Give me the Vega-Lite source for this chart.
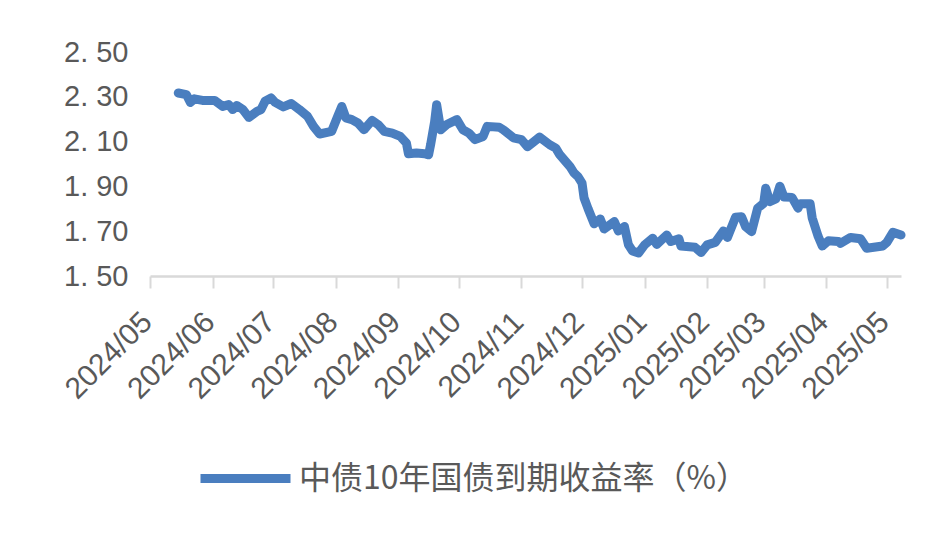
{
  "$schema": "https://vega.github.io/schema/vega-lite/v6.json",
  "autosize": {"type": "none"},
  "padding": {"left": 150, "top": 52, "right": 50, "bottom": 265},
  "width": 751,
  "height": 224,
  "background": "white",
  "config": {"view": {"stroke": null}},
  "data": {"values": [
    {"date":"2024-05-15","v":2.317},
    {"date":"2024-05-19","v":2.310},
    {"date":"2024-05-21","v":2.275},
    {"date":"2024-05-23","v":2.291},
    {"date":"2024-05-27","v":2.284},
    {"date":"2024-06-02","v":2.284},
    {"date":"2024-06-06","v":2.257},
    {"date":"2024-06-09","v":2.265},
    {"date":"2024-06-11","v":2.243},
    {"date":"2024-06-13","v":2.261},
    {"date":"2024-06-16","v":2.243},
    {"date":"2024-06-19","v":2.208},
    {"date":"2024-06-23","v":2.235},
    {"date":"2024-06-25","v":2.243},
    {"date":"2024-06-27","v":2.280},
    {"date":"2024-06-30","v":2.295},
    {"date":"2024-07-02","v":2.275},
    {"date":"2024-07-06","v":2.255},
    {"date":"2024-07-10","v":2.270},
    {"date":"2024-07-14","v":2.243},
    {"date":"2024-07-18","v":2.213},
    {"date":"2024-07-21","v":2.168},
    {"date":"2024-07-24","v":2.134},
    {"date":"2024-07-30","v":2.146},
    {"date":"2024-08-02","v":2.213},
    {"date":"2024-08-04","v":2.257},
    {"date":"2024-08-06","v":2.206},
    {"date":"2024-08-09","v":2.198},
    {"date":"2024-08-12","v":2.183},
    {"date":"2024-08-15","v":2.153},
    {"date":"2024-08-19","v":2.195},
    {"date":"2024-08-22","v":2.176},
    {"date":"2024-08-25","v":2.146},
    {"date":"2024-08-29","v":2.138},
    {"date":"2024-09-02","v":2.123},
    {"date":"2024-09-05","v":2.094},
    {"date":"2024-09-06","v":2.046},
    {"date":"2024-09-10","v":2.049},
    {"date":"2024-09-14","v":2.046},
    {"date":"2024-09-16","v":2.041},
    {"date":"2024-09-17","v":2.086},
    {"date":"2024-09-19","v":2.190},
    {"date":"2024-09-20","v":2.265},
    {"date":"2024-09-22","v":2.153},
    {"date":"2024-09-25","v":2.176},
    {"date":"2024-09-30","v":2.198},
    {"date":"2024-10-03","v":2.153},
    {"date":"2024-10-06","v":2.138},
    {"date":"2024-10-09","v":2.109},
    {"date":"2024-10-13","v":2.123},
    {"date":"2024-10-15","v":2.168},
    {"date":"2024-10-21","v":2.164},
    {"date":"2024-10-23","v":2.153},
    {"date":"2024-10-28","v":2.117},
    {"date":"2024-11-01","v":2.109},
    {"date":"2024-11-04","v":2.077},
    {"date":"2024-11-10","v":2.120},
    {"date":"2024-11-15","v":2.086},
    {"date":"2024-11-18","v":2.071},
    {"date":"2024-11-20","v":2.041},
    {"date":"2024-11-25","v":1.989},
    {"date":"2024-11-27","v":1.960},
    {"date":"2024-11-29","v":1.944},
    {"date":"2024-12-01","v":1.915},
    {"date":"2024-12-02","v":1.849},
    {"date":"2024-12-04","v":1.800},
    {"date":"2024-12-07","v":1.733},
    {"date":"2024-12-10","v":1.755},
    {"date":"2024-12-12","v":1.710},
    {"date":"2024-12-17","v":1.743},
    {"date":"2024-12-19","v":1.701},
    {"date":"2024-12-22","v":1.721},
    {"date":"2024-12-24","v":1.639},
    {"date":"2024-12-26","v":1.612},
    {"date":"2024-12-29","v":1.603},
    {"date":"2025-01-01","v":1.639},
    {"date":"2025-01-05","v":1.669},
    {"date":"2025-01-07","v":1.641},
    {"date":"2025-01-12","v":1.683},
    {"date":"2025-01-14","v":1.654},
    {"date":"2025-01-18","v":1.666},
    {"date":"2025-01-19","v":1.634},
    {"date":"2025-01-26","v":1.628},
    {"date":"2025-01-29","v":1.605},
    {"date":"2025-02-01","v":1.639},
    {"date":"2025-02-05","v":1.650},
    {"date":"2025-02-09","v":1.701},
    {"date":"2025-02-11","v":1.672},
    {"date":"2025-02-15","v":1.762},
    {"date":"2025-02-18","v":1.765},
    {"date":"2025-02-20","v":1.721},
    {"date":"2025-02-23","v":1.698},
    {"date":"2025-02-26","v":1.803},
    {"date":"2025-03-01","v":1.825},
    {"date":"2025-03-02","v":1.892},
    {"date":"2025-03-04","v":1.832},
    {"date":"2025-03-07","v":1.844},
    {"date":"2025-03-09","v":1.901},
    {"date":"2025-03-11","v":1.853},
    {"date":"2025-03-15","v":1.851},
    {"date":"2025-03-18","v":1.803},
    {"date":"2025-03-19","v":1.822},
    {"date":"2025-03-24","v":1.822},
    {"date":"2025-03-25","v":1.760},
    {"date":"2025-03-28","v":1.676},
    {"date":"2025-03-30","v":1.634},
    {"date":"2025-04-02","v":1.657},
    {"date":"2025-04-07","v":1.654},
    {"date":"2025-04-08","v":1.646},
    {"date":"2025-04-13","v":1.672},
    {"date":"2025-04-18","v":1.666},
    {"date":"2025-04-21","v":1.624},
    {"date":"2025-04-29","v":1.634},
    {"date":"2025-05-01","v":1.650},
    {"date":"2025-05-04","v":1.695},
    {"date":"2025-05-08","v":1.683}
  ]},
  "mark": {"type": "line", "strokeWidth": 9, "strokeJoin": "round", "strokeCap": "round"},
  "encoding": {
    "x": {
      "field": "date", "type": "temporal",
      "scale": {"type": "utc", "domain": [{"year":2024,"month":5,"date":1,"utc":true},{"year":2025,"month":5,"date":8,"utc":true}]},
      "axis": {
        "title": null,
        "values": [
          {"year":2024,"month":5,"date":1,"utc":true},
          {"year":2024,"month":6,"date":1,"utc":true},
          {"year":2024,"month":7,"date":1,"utc":true},
          {"year":2024,"month":8,"date":1,"utc":true},
          {"year":2024,"month":9,"date":1,"utc":true},
          {"year":2024,"month":10,"date":1,"utc":true},
          {"year":2024,"month":11,"date":1,"utc":true},
          {"year":2024,"month":12,"date":1,"utc":true},
          {"year":2025,"month":1,"date":1,"utc":true},
          {"year":2025,"month":2,"date":1,"utc":true},
          {"year":2025,"month":3,"date":1,"utc":true},
          {"year":2025,"month":4,"date":1,"utc":true},
          {"year":2025,"month":5,"date":1,"utc":true}
        ],
        "labelExpr": "utcFormat(datum.value, '%Y/%m')",
        "grid": false,
        "domainColor": "#d9d9d9", "domainWidth": 2.5,
        "tickColor": "#d9d9d9", "tickWidth": 2, "tickSize": 12,
        "labelAngle": -45, "labelAlign": "right", "labelBaseline": "middle",
        "labelPadding": 29, "labelOffset": -3,
        "labelFont": "Liberation Sans", "labelFontSize": 30, "labelColor": "#595959",
        "labelOverlap": false, "labelFlush": false
      }
    },
    "y": {
      "field": "v", "type": "quantitative",
      "scale": {"domain": [1.5, 2.5], "nice": false, "zero": false},
      "axis": {
        "title": null,
        "values": [1.5, 1.7, 1.9, 2.1, 2.3, 2.5],
        "labelExpr": "replace(format(datum.value, '.2f'), '.', '. ')",
        "grid": false, "domain": false, "ticks": false,
        "labelPadding": 22,
        "labelFont": "Liberation Sans", "labelFontSize": 29, "labelColor": "#595959",
        "labelOverlap": false, "labelFlush": false
      }
    },
    "color": {
      "datum": "中债10年国债到期收益率（%）",
      "type": "nominal",
      "scale": {"range": ["#4a7ebf"]},
      "legend": {
        "title": null,
        "orient": "none",
        "legendX": 46,
        "legendY": 377,
        "padding": 0,
        "symbolType": "stroke",
        "symbolSize": 8100,
        "symbolStrokeWidth": 9,
        "labelOffset": 4,
        "labelFont": "Noto Sans CJK SC",
        "labelFontSize": 32,
        "labelColor": "#595959",
        "labelLimit": 800
      }
    }
  }
}
